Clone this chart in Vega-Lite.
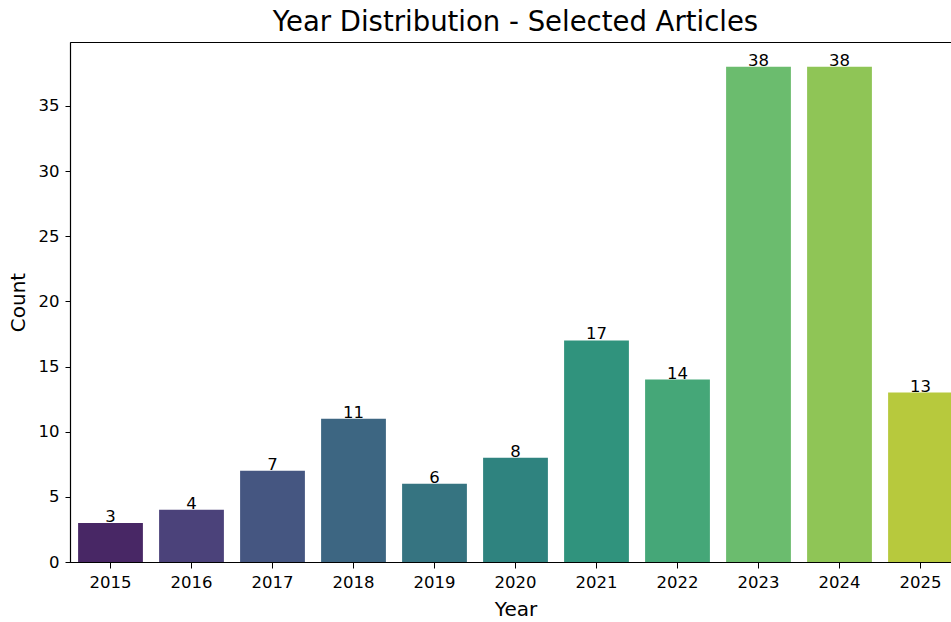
{
  "$schema": "https://vega.github.io/schema/vega-lite/v6.json",
  "width": 891,
  "height": 520,
  "autosize": {"type": "none"},
  "padding": {"left": 70, "top": 42, "right": 0, "bottom": 60},
  "background": "white",
  "config": {
    "view": {"stroke": "black", "strokeWidth": 1},
    "font": "DejaVu Sans",
    "axis": {"labelFont": "DejaVu Sans", "titleFont": "DejaVu Sans", "labelColor": "black", "titleColor": "black", "domainColor": "black", "tickColor": "black", "titleFontWeight": "normal"}
  },
  "title": {
    "text": "Year Distribution - Selected Articles",
    "fontSize": 27.5,
    "fontWeight": "normal",
    "font": "DejaVu Sans",
    "color": "black",
    "anchor": "middle",
    "baseline": "alphabetic",
    "offset": -16
  },
  "data": {
    "values": [
      {"year": "2015", "count": 3},
      {"year": "2016", "count": 4},
      {"year": "2017", "count": 7},
      {"year": "2018", "count": 11},
      {"year": "2019", "count": 6},
      {"year": "2020", "count": 8},
      {"year": "2021", "count": 17},
      {"year": "2022", "count": 14},
      {"year": "2023", "count": 38},
      {"year": "2024", "count": 38},
      {"year": "2025", "count": 13}
    ]
  },
  "encoding": {
    "x": {
      "field": "year",
      "type": "ordinal",
      "scale": {"paddingInner": 0.2, "paddingOuter": 0.1},
      "axis": {
        "title": "Year",
        "labelAngle": 0,
        "labelFontSize": 16.5,
        "titleFontSize": 20,
        "tickSize": 6,
        "labelPadding": 6,
        "titlePadding": 9,
        "domainWidth": 1.2,
        "grid": false
      }
    },
    "y": {
      "field": "count",
      "type": "quantitative",
      "scale": {"domain": [0, 39.9], "nice": false},
      "axis": {
        "title": "Count",
        "values": [0, 5, 10, 15, 20, 25, 30, 35],
        "labelFontSize": 16.5,
        "titleFontSize": 20,
        "tickSize": 5,
        "labelPadding": 6,
        "titlePadding": 10,
        "domainWidth": 1.2,
        "grid": false
      }
    }
  },
  "layer": [
    {
      "mark": {"type": "bar"},
      "encoding": {
        "color": {
          "field": "year",
          "type": "ordinal",
          "scale": {
            "domain": ["2015", "2016", "2017", "2018", "2019", "2020", "2021", "2022", "2023", "2024", "2025"],
            "range": ["#482765", "#4b427a", "#455681", "#3d6682", "#367481", "#2f837f", "#30937d", "#45a778", "#6bbc6e", "#8fc556", "#b7c93d"]
          },
          "legend": null
        }
      }
    },
    {
      "mark": {"type": "text", "baseline": "alphabetic", "dy": -1, "fontSize": 16.5, "color": "black", "font": "DejaVu Sans"},
      "encoding": {"text": {"field": "count", "type": "quantitative"}}
    }
  ]
}
